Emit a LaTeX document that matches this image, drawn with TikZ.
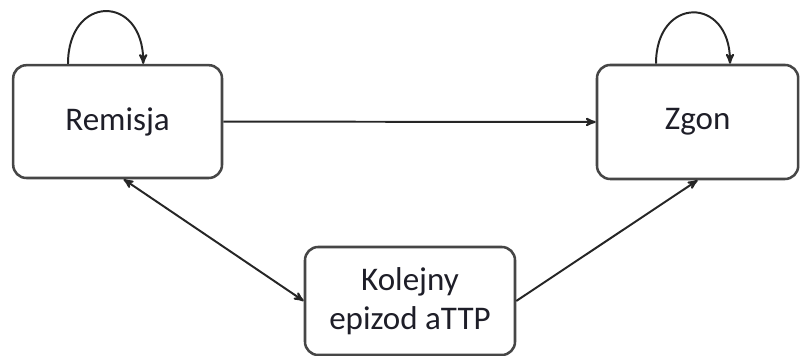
\documentclass[tikz,border=0pt]{standalone}
\usepackage{fontspec}
\setmainfont{Carlito}
\usepackage{tikz}
\usetikzlibrary{arrows}
\tikzset{>=stealth'}
\definecolor{boxline}{RGB}{70, 70, 70}
\definecolor{labeltext}{RGB}{30, 30, 40}
\tikzset{
	state/.style={draw=boxline, line width=1.8pt, rounded corners=0.33cm, fill=white,
		text=labeltext, align=center, font=\fontsize{23.5}{28}\selectfont, inner sep=0pt},
	trans/.style={->, line width=1.4pt, black!85}
}
\begin{document}
\begin{tikzpicture}
				\useasboundingbox (0,0) rectangle (20,8.9);
				\node[state, minimum width=5.22cm, minimum height=2.82cm] (rem) at (2.94,5.86) {Remisja};
				\node[state, minimum width=5.03cm, minimum height=2.85cm] (zgon) at (17.44,5.85) {Zgon};
				\node[state, minimum width=5.25cm, minimum height=2.7cm] (kol) at (10.25,1.375) {Kolejny\\epizod aTTP};

				\draw[trans] (rem.east) -- (zgon.west);
				\draw[trans, <->] ([xshift=0.15cm]rem.south) -- (kol.west);
				\draw[trans] (kol.east) -- (zgon.south);

				% self loops
				\draw[trans] ([xshift=-1.24cm]rem.north) .. controls +(0,1.75) and +(0,1.75) .. ([xshift=0.64cm]rem.north);
				\draw[trans] ([xshift=-1.04cm]zgon.north) .. controls +(0,1.7) and +(0,1.7) .. ([xshift=0.81cm]zgon.north);
			\end{tikzpicture}
\end{document}
